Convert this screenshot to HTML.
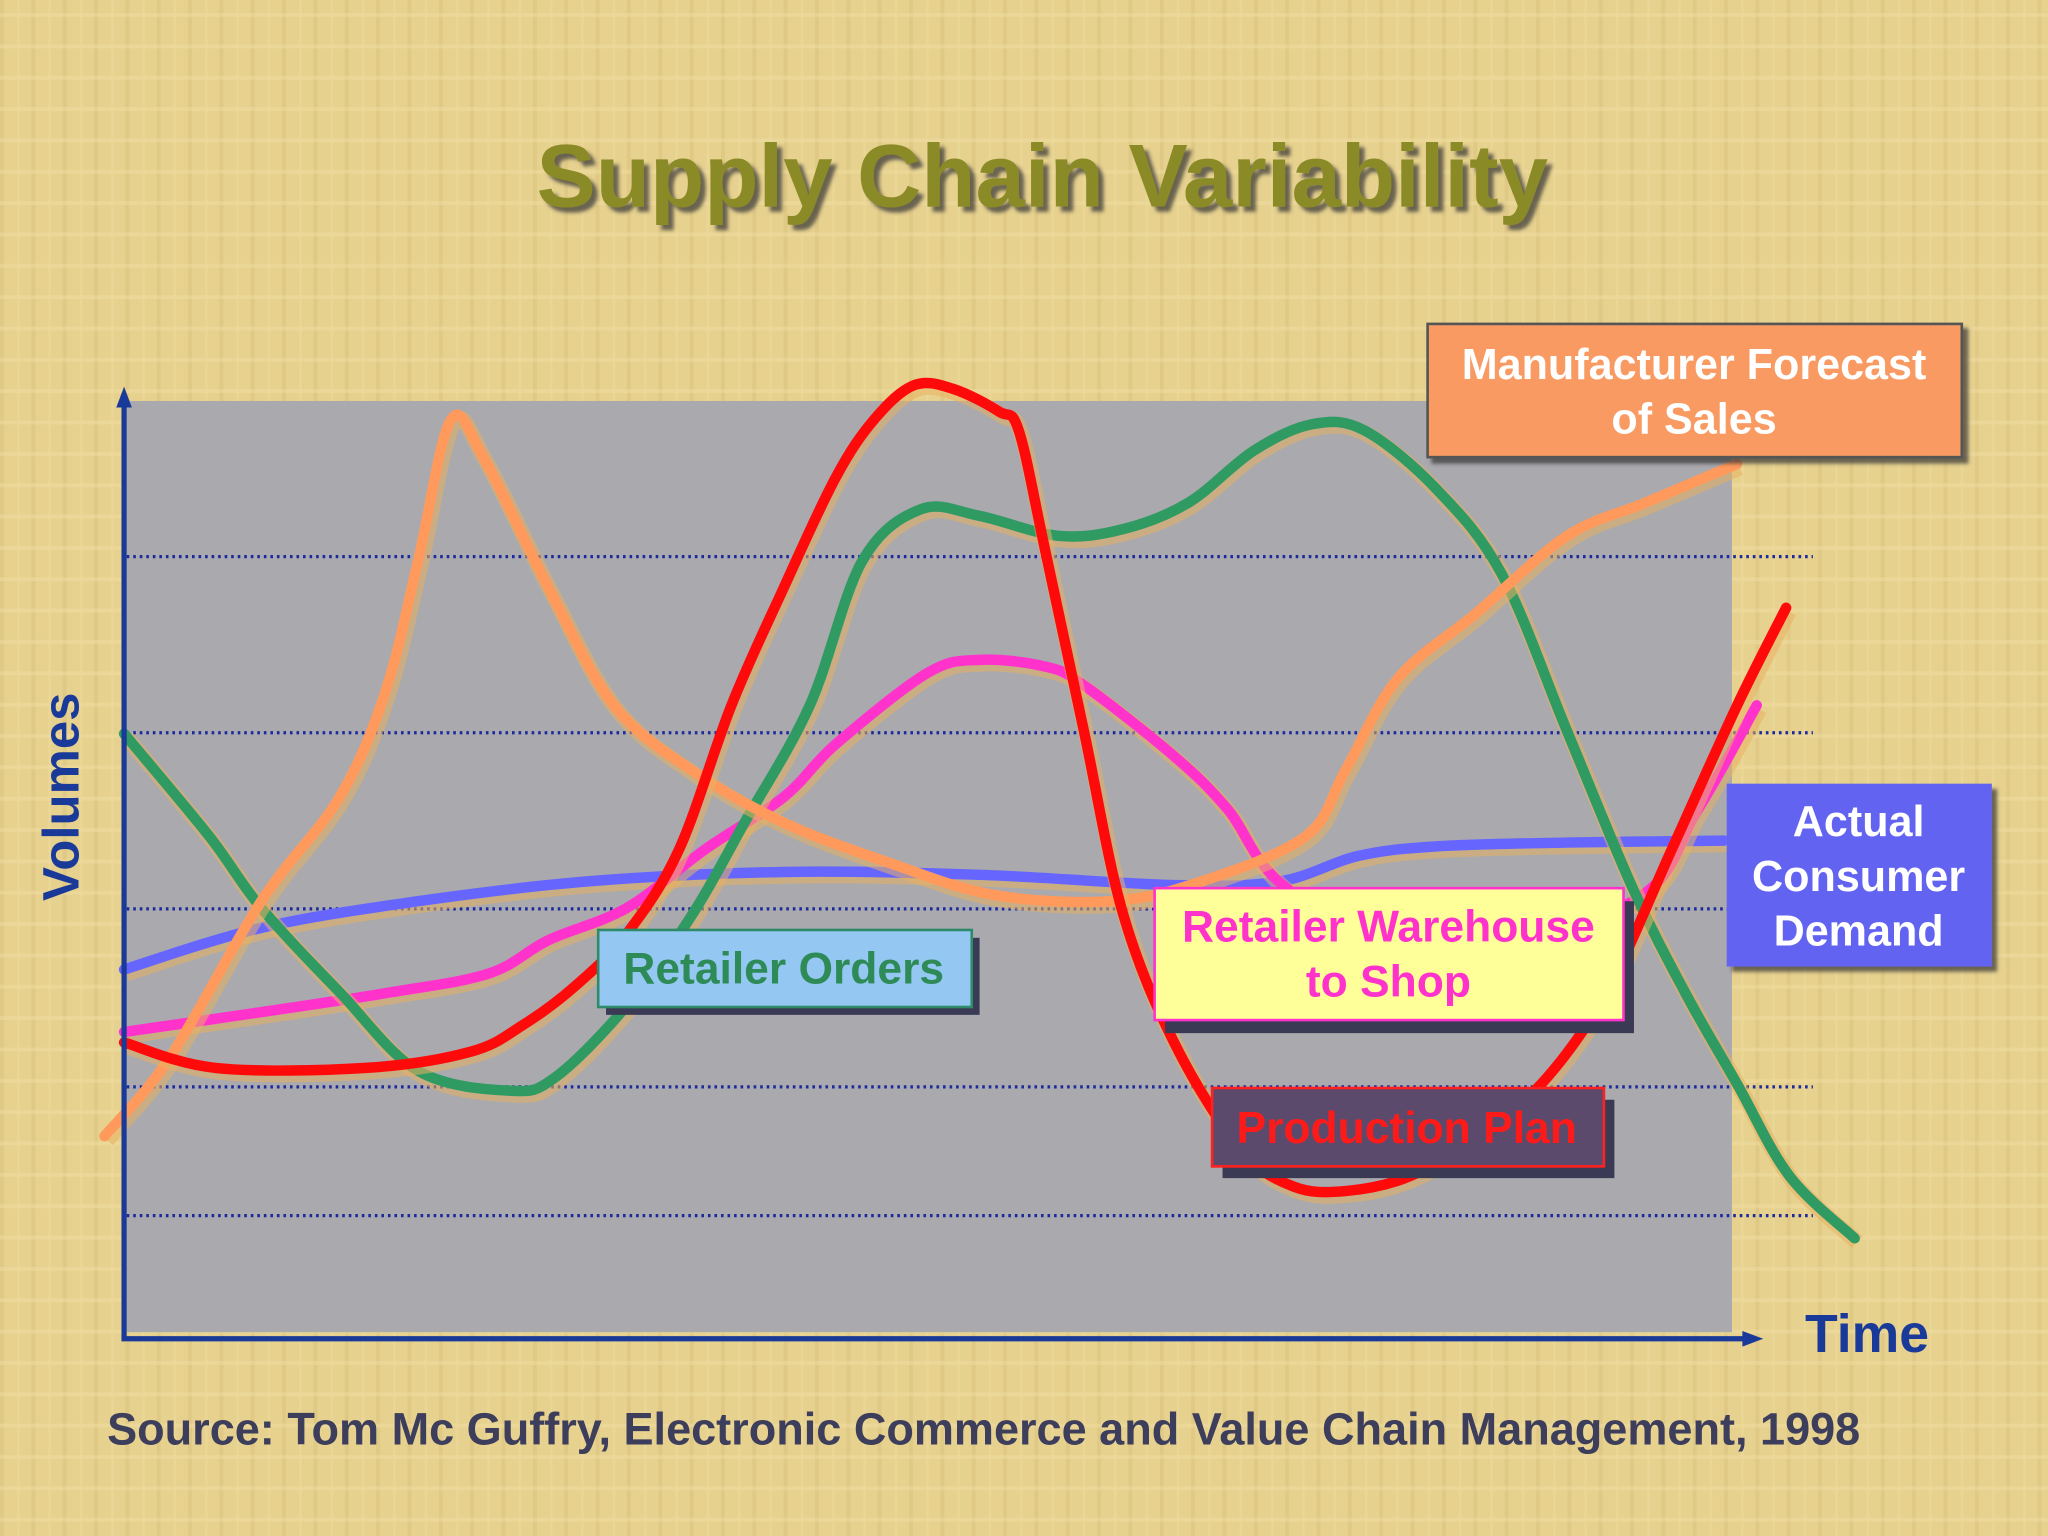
<!DOCTYPE html>
<html><head><meta charset="utf-8"><style>
html,body{margin:0;padding:0;width:2048px;height:1536px;overflow:hidden;background:#e6d18e}
svg{display:block}
text{font-family:"Liberation Sans",Arial,sans-serif;font-weight:bold}
</style></head><body>
<svg id="chart" width="2048" height="1536" viewBox="0 0 1568 1176" xmlns="http://www.w3.org/2000/svg">
<defs>
<pattern id="tex" width="24" height="24" patternUnits="userSpaceOnUse">
<rect width="24" height="24" fill="#e6d18e"/>
<rect x="0" y="0" width="3" height="24" fill="#d9c27c" opacity="0.5"/>
<rect x="0" y="10" width="24" height="3" fill="#f0dea0" opacity="0.5"/>
<rect x="13" y="0" width="2" height="24" fill="#ecd99a" opacity="0.6"/>
</pattern>
<filter id="sh"><feDropShadow dx="4" dy="4" stdDeviation="1.5" flood-color="#333" flood-opacity="0.7"/></filter>
</defs>
<rect width="1568" height="1176" fill="url(#tex)"/>
<text x="798" y="158" text-anchor="middle" font-size="68" fill="#8a8a26" filter="url(#sh)">Supply Chain Variability</text>
<rect x="97" y="307" width="1229" height="713" fill="#a9a9ae"/>
<g id="grid"></g>
<g id="series"></g>
<g>
<line x1="95" y1="1025" x2="95" y2="305" stroke="#1a3a9a" stroke-width="4"/>
<polygon points="95,296 89,312 101,312" fill="#1a3a9a"/>
<line x1="93" y1="1025" x2="1338" y2="1025" stroke="#1a3a9a" stroke-width="4"/>
<polygon points="1350,1025 1334,1019 1334,1031" fill="#1a3a9a"/>
</g>
<text transform="translate(60,610) rotate(-90)" text-anchor="middle" font-size="39" fill="#1a3a9a">Volumes</text>
<text x="1382" y="1035" font-size="41" fill="#1a3a9a">Time</text>

<g>
<rect x="1093" y="248" width="409" height="102" fill="#f89a62" stroke="#555" stroke-width="2" filter="url(#sh)"/>
<text x="1297" y="290" text-anchor="middle" font-size="33" fill="#fff">Manufacturer Forecast</text>
<text x="1297" y="332" text-anchor="middle" font-size="33" fill="#fff">of Sales</text>
</g>
<g>
<rect x="1322" y="600" width="203" height="140" fill="#6464f2" filter="url(#sh)"/>
<text x="1423" y="640" text-anchor="middle" font-size="33" fill="#fff">Actual</text>
<text x="1423" y="682" text-anchor="middle" font-size="33" fill="#fff">Consumer</text>
<text x="1423" y="724" text-anchor="middle" font-size="33" fill="#fff">Demand</text>
</g>
<g>
<rect x="464" y="718" width="286" height="59" fill="#3a3a55"/>
<rect x="458" y="712" width="286" height="59" fill="#94c8f2" stroke="#2e8b6a" stroke-width="2"/>
<text x="600" y="753" text-anchor="middle" font-size="34" fill="#2e8b57">Retailer Orders</text>
</g>
<g>
<rect x="892" y="690" width="359" height="101" fill="#3a3a55"/>
<rect x="884" y="680" width="359" height="101" fill="#ffff99" stroke="#ff33cc" stroke-width="2"/>
<text x="1063" y="721" text-anchor="middle" font-size="34" fill="#ff33cc">Retailer Warehouse</text>
<text x="1063" y="763" text-anchor="middle" font-size="34" fill="#ff33cc">to Shop</text>
</g>
<g>
<rect x="936" y="842" width="300" height="60" fill="#3a3a55"/>
<rect x="928" y="833" width="300" height="60" fill="#5c4a6c" stroke="#ff2020" stroke-width="2"/>
<text x="1077" y="875" text-anchor="middle" font-size="34" fill="#ff1a1a">Production Plan</text>
</g>
<text x="82" y="1106" font-size="34.5" fill="#3d3d5c">Source: Tom Mc Guffry, Electronic Commerce and Value Chain Management, 1998</text>
</svg>
<script>
const gridValues=[82.6,64,45.4,26.6,13];
const greenT=[0,5.2,8.4,13.2,18,23.6,26.4,30.8,34.8,38,42,45.2,48.8,52.4,57.2,61.2,65.2,69.2,72.8,76,80.4,84.4,88.4,92.4,95.6,98.8,102,106];
const greenV=[63.9,53.1,45.5,36.6,28.3,26.2,27.6,35.2,44.8,54.5,66.9,82.1,87.6,86.9,84.8,85.5,88.3,93.8,96.6,95.9,89.7,80.7,64.1,47.6,36.6,26.9,17.2,10.6];
const blueT=[0,8.4,18,28.4,40.4,52.4,64.4,70.8,75.6,80.4,88.4,98];
const blueV=[39,43.4,46.2,48.3,49.3,49,47.9,48.3,51,52,52.4,52.6];
const pinkT=[0,8.4,16.4,22.4,26,30.8,35.6,40.4,43.6,49.2,52.4,56.4,58.8,64.4,67.6,71.2,80,92.4,96.4,100];
const pinkV=[32.4,34.5,36.6,38.6,42.1,45.5,51.7,57.2,62.8,70.3,71.7,71,69,61.4,55.9,47.6,40,46.2,55.9,66.9];
const orangeT=[-1.2,2.8,8.4,13.2,16,18,20,22,26,30,34.8,40.4,46.8,53.2,60.4,66,72.4,74.8,78,82.8,88.4,93.2,98.8];
const orangeV=[21.4,29.7,46.2,57.2,68.3,82.1,97,93.1,79.3,66.9,60,54.5,50.3,46.9,46.2,48.3,53.1,60,69.7,76.6,84.8,88.3,92.4];
const redT=[0,5.6,14.8,21.2,24.4,27.6,30.8,34,37.2,40.4,43.6,46,48.4,50.8,53.6,54.8,56.4,58.8,61.2,64.4,68.4,71.6,74.8,78.8,82.8,86.8,90.8,94.8,98.8,101.8];
const redV=[31.3,28.6,28.6,30.3,33.1,37.2,42.8,51.7,66.9,79.3,91,97.2,100.7,100.3,97.9,95.9,83.4,64.1,44.8,31,20,16.1,15.6,17.2,21.4,26.9,36.6,51.7,66.9,77.2];

const NS='http://www.w3.org/2000/svg';
const xS=t=>95+t*12.5;
const yS=v=>1025-v*7.25;
const grid=document.getElementById('grid');
gridValues.forEach(v=>{
  const l=document.createElementNS(NS,'line');
  l.setAttribute('x1',97);l.setAttribute('x2',1388);
  l.setAttribute('y1',yS(v));l.setAttribute('y2',yS(v));
  l.setAttribute('stroke','#1c2a9c');l.setAttribute('stroke-width','2.5');
  l.setAttribute('stroke-dasharray','2 3');
  
  
  grid.appendChild(l);
});
const sg=document.getElementById('series');
function smooth(P){
  let d='M'+P[0][0].toFixed(1)+','+P[0][1].toFixed(1);
  for(let i=0;i<P.length-1;i++){
    const p0=P[Math.max(0,i-1)],p1=P[i],p2=P[i+1],p3=P[Math.min(P.length-1,i+2)];
    const c1=[p1[0]+(p2[0]-p0[0])/6,p1[1]+(p2[1]-p0[1])/6];
    const c2=[p2[0]-(p3[0]-p1[0])/6,p2[1]-(p3[1]-p1[1])/6];
    d+=' C'+c1[0].toFixed(1)+','+c1[1].toFixed(1)+' '+c2[0].toFixed(1)+','+c2[1].toFixed(1)+' '+p2[0].toFixed(1)+','+p2[1].toFixed(1);
  }
  return d;
}
function draw(T,V,color,name){
  const d=smooth(T.map((t,i)=>[xS(t),yS(V[i])]));
  const h=document.createElementNS(NS,'path');
  h.setAttribute('d',d);h.setAttribute('fill','none');h.setAttribute('stroke','#e8b060');
  h.setAttribute('stroke-width','12');h.setAttribute('stroke-linejoin','round');h.setAttribute('opacity','0.55');
  h.setAttribute('transform','translate(2,3)');
  
  
  sg.appendChild(h);
  const p=document.createElementNS(NS,'path');
  p.setAttribute('d',d);p.setAttribute('fill','none');p.setAttribute('stroke',color);
  p.setAttribute('stroke-width','8');p.setAttribute('stroke-linejoin','round');p.setAttribute('stroke-linecap','round');
  
  
  sg.appendChild(p);
}
draw(blueT,blueV,'#6666ff','line-actual-demand');
draw(pinkT,pinkV,'#ff33cc','line-retailer-warehouse');
draw(greenT,greenV,'#2f9a62','line-retailer-orders');
draw(orangeT,orangeV,'#ff9a5c','line-manufacturer-forecast');
draw(redT,redV,'#ff0a0a','line-production-plan');
</script>
</body></html>
